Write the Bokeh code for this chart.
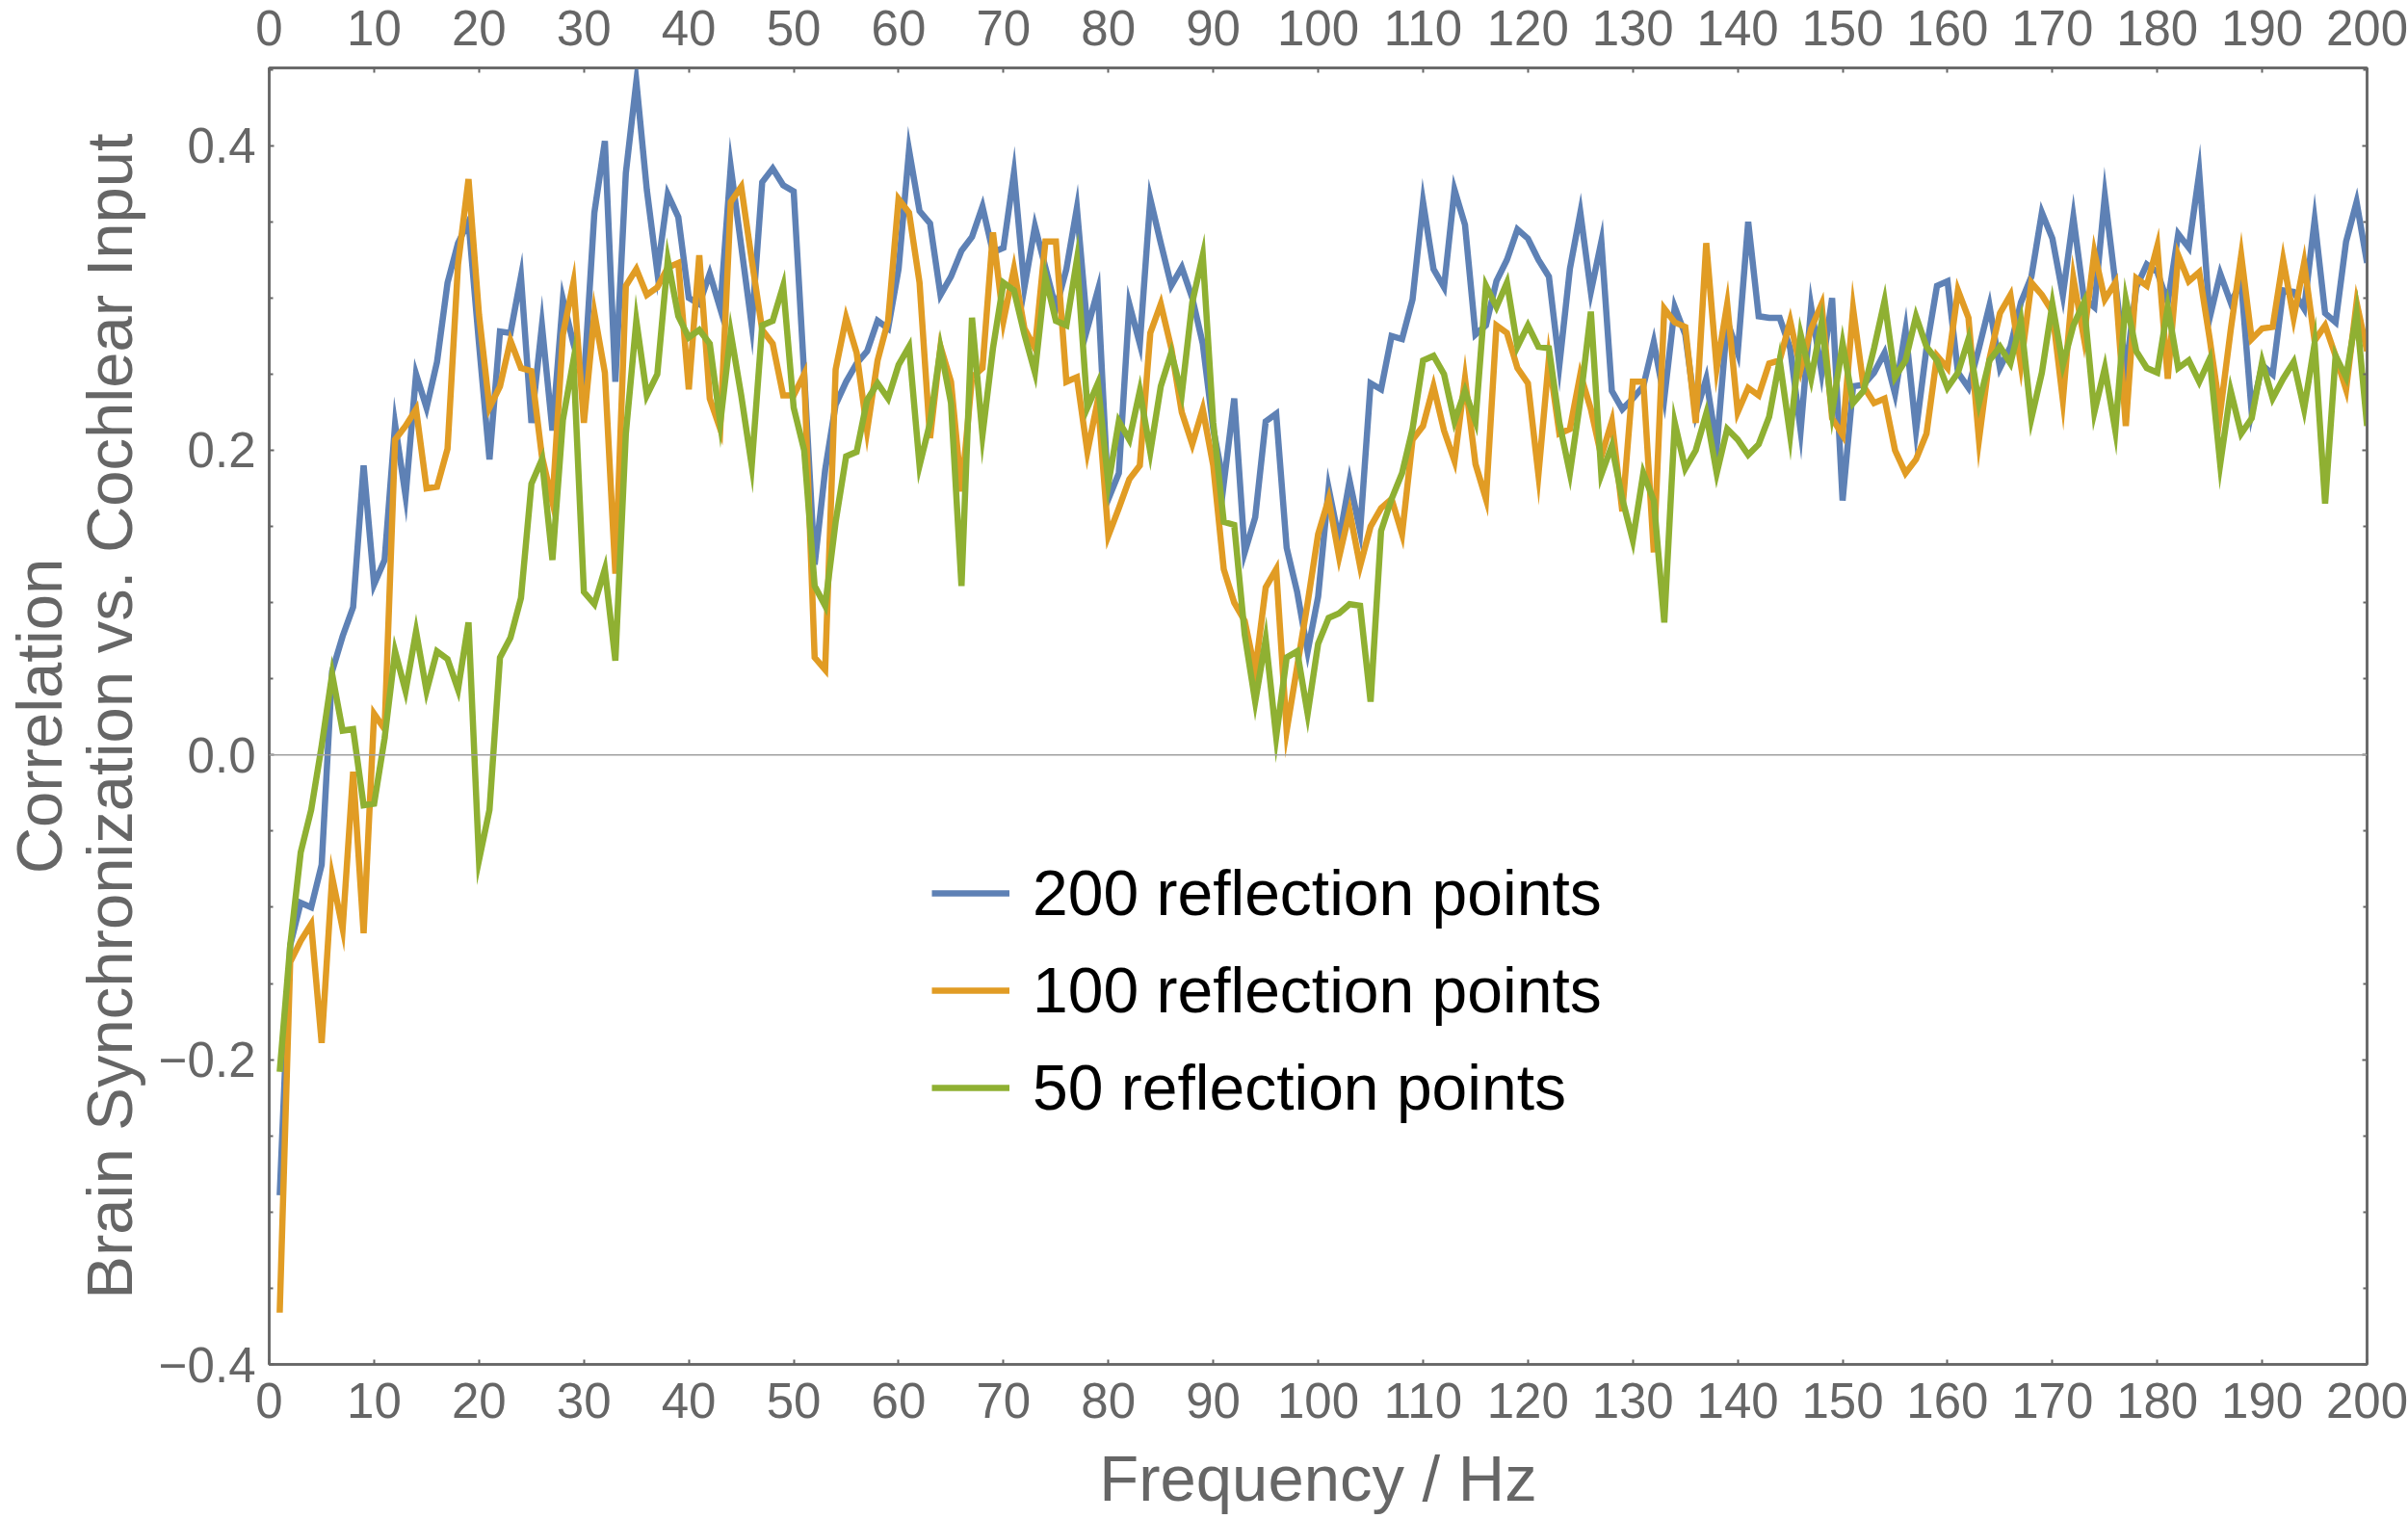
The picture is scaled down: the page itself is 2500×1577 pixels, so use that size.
from bokeh.plotting import figure
from bokeh.models import Range1d, LinearAxis, FixedTicker, Span, Legend, LegendItem, ColumnDataSource
from bokeh.embed import file_html
from bokeh.resources import INLINE

# ---------------- data ----------------
freq_hz = list(range(1, 201))

corr_200 = [
    -0.289, -0.125, -0.097, -0.100, -0.072, 0.055, 0.078, 0.097, 0.190, 0.112,
    0.128, 0.217, 0.170, 0.250, 0.228, 0.258, 0.310, 0.336, 0.350, 0.270,
    0.194, 0.278, 0.277, 0.314, 0.218, 0.282, 0.213, 0.299, 0.270, 0.245,
    0.356, 0.403, 0.245, 0.382, 0.442, 0.371, 0.317, 0.368, 0.353, 0.300,
    0.296, 0.316, 0.293, 0.386, 0.334, 0.282, 0.376, 0.385, 0.374, 0.370,
    0.250, 0.125, 0.187, 0.230, 0.245, 0.257, 0.265, 0.285, 0.280, 0.319,
    0.397, 0.357, 0.349, 0.302, 0.314, 0.331, 0.340, 0.360, 0.330, 0.333,
    0.382, 0.307, 0.347, 0.320, 0.293, 0.319, 0.359, 0.280, 0.305, 0.168,
    0.185, 0.296, 0.270, 0.365, 0.336, 0.308, 0.320, 0.300, 0.270, 0.214,
    0.178, 0.234, 0.133, 0.156, 0.219, 0.224, 0.136, 0.107, 0.068, 0.104,
    0.175, 0.141, 0.180, 0.147, 0.244, 0.240, 0.275, 0.273, 0.299, 0.363,
    0.319, 0.307, 0.371, 0.348, 0.276, 0.282, 0.311, 0.325, 0.345, 0.339,
    0.325, 0.314, 0.256, 0.319, 0.356, 0.304, 0.337, 0.239, 0.227, 0.234,
    0.242, 0.271, 0.234, 0.294, 0.276, 0.224, 0.247, 0.202, 0.285, 0.264,
    0.350, 0.288, 0.287, 0.287, 0.267, 0.213, 0.294, 0.251, 0.300, 0.167,
    0.242, 0.243, 0.251, 0.264, 0.237, 0.279, 0.213, 0.267, 0.308, 0.311,
    0.251, 0.241, 0.267, 0.295, 0.254, 0.268, 0.297, 0.314, 0.356, 0.339,
    0.302, 0.353, 0.300, 0.294, 0.367, 0.310, 0.252, 0.307, 0.322, 0.317,
    0.297, 0.342, 0.333, 0.382, 0.287, 0.316, 0.297, 0.310, 0.225, 0.256,
    0.250, 0.305, 0.304, 0.293, 0.351, 0.290, 0.284, 0.337, 0.363, 0.323,
]

corr_100 = [
    -0.366, -0.136, -0.122, -0.111, -0.189, -0.080, -0.114, -0.011, -0.117, 0.027,
    0.017, 0.207, 0.216, 0.227, 0.175, 0.176, 0.201, 0.322, 0.378, 0.289,
    0.228, 0.242, 0.272, 0.254, 0.252, 0.196, 0.166, 0.276, 0.310, 0.218,
    0.290, 0.251, 0.119, 0.308, 0.319, 0.302, 0.307, 0.320, 0.323, 0.240,
    0.328, 0.234, 0.214, 0.363, 0.373, 0.325, 0.279, 0.270, 0.236, 0.236,
    0.250, 0.064, 0.056, 0.253, 0.287, 0.264, 0.213, 0.259, 0.285, 0.365,
    0.356, 0.310, 0.208, 0.268, 0.245, 0.173, 0.248, 0.254, 0.343, 0.285,
    0.319, 0.280, 0.267, 0.337, 0.337, 0.245, 0.248, 0.199, 0.233, 0.144,
    0.162, 0.181, 0.190, 0.277, 0.296, 0.267, 0.225, 0.204, 0.227, 0.190,
    0.122, 0.100, 0.088, 0.055, 0.110, 0.122, 0.016, 0.058, 0.100, 0.145,
    0.168, 0.130, 0.160, 0.124, 0.150, 0.162, 0.168, 0.145, 0.207, 0.216,
    0.242, 0.213, 0.193, 0.247, 0.191, 0.168, 0.282, 0.277, 0.254, 0.244,
    0.184, 0.260, 0.211, 0.214, 0.250, 0.227, 0.196, 0.219, 0.160, 0.245,
    0.245, 0.133, 0.293, 0.284, 0.281, 0.218, 0.336, 0.254, 0.296, 0.225,
    0.241, 0.236, 0.257, 0.259, 0.285, 0.253, 0.280, 0.296, 0.221, 0.210,
    0.293, 0.242, 0.231, 0.234, 0.200, 0.185, 0.194, 0.211, 0.262, 0.254,
    0.305, 0.287, 0.207, 0.260, 0.290, 0.302, 0.256, 0.310, 0.302, 0.291,
    0.233, 0.313, 0.274, 0.330, 0.299, 0.310, 0.216, 0.313, 0.308, 0.334,
    0.247, 0.328, 0.311, 0.317, 0.273, 0.225, 0.279, 0.328, 0.273, 0.280,
    0.281, 0.325, 0.287, 0.323, 0.272, 0.282, 0.262, 0.240, 0.297, 0.265,
]

corr_50 = [
    -0.208, -0.125, -0.064, -0.036, 0.006, 0.053, 0.016, 0.017, -0.033, -0.032,
    0.011, 0.068, 0.042, 0.081, 0.042, 0.068, 0.063, 0.043, 0.087, -0.069,
    -0.036, 0.064, 0.077, 0.103, 0.178, 0.194, 0.128, 0.220, 0.259, 0.107,
    0.099, 0.122, 0.062, 0.211, 0.285, 0.236, 0.250, 0.325, 0.288, 0.274,
    0.279, 0.270, 0.218, 0.277, 0.236, 0.190, 0.282, 0.285, 0.308, 0.228,
    0.200, 0.111, 0.098, 0.153, 0.196, 0.199, 0.233, 0.244, 0.234, 0.256,
    0.268, 0.190, 0.218, 0.267, 0.231, 0.111, 0.287, 0.210, 0.267, 0.310,
    0.305, 0.276, 0.251, 0.314, 0.285, 0.282, 0.325, 0.228, 0.244, 0.178,
    0.219, 0.207, 0.239, 0.199, 0.242, 0.264, 0.237, 0.297, 0.328, 0.218,
    0.153, 0.151, 0.079, 0.035, 0.076, 0.012, 0.064, 0.068, 0.027, 0.073,
    0.090, 0.093, 0.099, 0.098, 0.035, 0.147, 0.168, 0.185, 0.214, 0.259,
    0.262, 0.250, 0.219, 0.239, 0.219, 0.308, 0.294, 0.310, 0.268, 0.282,
    0.268, 0.267, 0.218, 0.185, 0.233, 0.291, 0.184, 0.203, 0.168, 0.141,
    0.185, 0.167, 0.087, 0.218, 0.188, 0.200, 0.224, 0.185, 0.214, 0.207,
    0.197, 0.204, 0.222, 0.259, 0.210, 0.276, 0.247, 0.284, 0.225, 0.270,
    0.231, 0.239, 0.267, 0.298, 0.248, 0.259, 0.288, 0.268, 0.259, 0.241,
    0.251, 0.273, 0.231, 0.259, 0.268, 0.257, 0.285, 0.221, 0.251, 0.296,
    0.256, 0.282, 0.297, 0.225, 0.254, 0.213, 0.299, 0.265, 0.254, 0.251,
    0.294, 0.254, 0.259, 0.245, 0.260, 0.191, 0.239, 0.211, 0.221, 0.258,
    0.234, 0.247, 0.258, 0.227, 0.270, 0.165, 0.262, 0.248, 0.290, 0.216,
]

series_labels = ["200 reflection points", "100 reflection points", "50 reflection points"]
series_colors = ["#5E81B5", "#E19C24", "#8FB032"]

x_ticks = [0, 10, 20, 30, 40, 50, 60, 70, 80, 90, 100,
           110, 120, 130, 140, 150, 160, 170, 180, 190, 200]
y_ticks = [-0.4, -0.2, 0.0, 0.2, 0.4]
y_tick_labels = ["\u22120.4", "\u22120.2", "0.0", "0.2", "0.4"]
y_minor_ticks = [-0.35, -0.3, -0.25, -0.15, -0.1, -0.05, 0.05, 0.1, 0.15,
                 0.25, 0.3, 0.35, 0.45]

x_label = "Frequency / Hz"
y_label = "Correlation\nBrain Synchronization vs. Cochlear Input"

# ---------------- figure ----------------
FONT = "Liberation Sans"
GRAY = "#666666"

p = figure(width=2500, height=1577,
           x_range=Range1d(0, 200), y_range=Range1d(-0.4, 0.451),
           output_backend="svg", toolbar_location=None,
           min_border_left=279, min_border_right=43,
           min_border_top=70, min_border_bottom=161)
p.xgrid.visible = False
p.ygrid.visible = False
p.background_fill_color = "white"
p.border_fill_color = "white"
p.outline_line_color = GRAY
p.outline_line_width = 2.5

zero = Span(location=0, dimension="width", line_color="#a0a0a0", line_width=1.5)
p.add_layout(zero)

src = ColumnDataSource(dict(f=freq_hz, c200=corr_200, c100=corr_100, c50=corr_50))
renderers = []
for col, color in zip(["c200", "c100", "c50"], series_colors):
    r = p.line("f", col, source=src, line_color=color, line_width=6.5, line_join="miter")
    renderers.append(r)

def style_axis(ax):
    ax.axis_line_color = GRAY
    ax.axis_line_width = 2.5
    ax.major_tick_line_color = GRAY
    ax.major_tick_line_width = 2
    ax.minor_tick_line_color = GRAY
    ax.minor_tick_line_width = 2
    ax.major_tick_in = 5
    ax.major_tick_out = 0
    ax.minor_tick_in = 4
    ax.minor_tick_out = 0
    ax.major_label_text_font = FONT
    ax.major_label_text_font_size = "51px"
    ax.major_label_text_color = GRAY
    ax.axis_label_text_font = FONT
    ax.axis_label_text_font_size = "67px"
    ax.axis_label_text_font_style = "normal"
    ax.axis_label_text_color = GRAY

# bottom x axis
xb = p.xaxis[0]
style_axis(xb)
xb.ticker = FixedTicker(ticks=x_ticks, minor_ticks=[])
xb.major_label_standoff = 19
xb.axis_label = x_label
xb.axis_label_standoff = 22

# left y axis
yl = p.yaxis[0]
style_axis(yl)
yl.ticker = FixedTicker(ticks=y_ticks, minor_ticks=y_minor_ticks)
yl.major_label_overrides = {t: s for t, s in zip(y_ticks, y_tick_labels)}
yl.major_label_standoff = 14
yl.axis_label = y_label
yl.axis_label_standoff = 11
yl.axis_label_text_line_height = 0.965

# top x axis
xt = LinearAxis(ticker=FixedTicker(ticks=x_ticks, minor_ticks=[]))
style_axis(xt)
xt.major_label_standoff = 24
p.add_layout(xt, "above")

# right y axis (ticks only, no labels drawn)
yr = LinearAxis(ticker=FixedTicker(ticks=y_ticks, minor_ticks=y_minor_ticks))
style_axis(yr)
yr.major_label_text_font_size = "1px"
yr.major_label_text_color = None
yr.major_label_standoff = 0
p.add_layout(yr, "right")

legend = Legend(
    items=[LegendItem(label=lab, renderers=[r]) for lab, r in zip(series_labels, renderers)],
    location=(688, 249),
    orientation="vertical",
    label_text_font=FONT, label_text_font_size="66px", label_text_color="black",
    glyph_width=81, glyph_height=76, label_height=76, label_standoff=24,
    spacing=25, padding=0, margin=0,
    border_line_color=None, background_fill_alpha=0,
)
p.add_layout(legend)

open("out.html", "w").write(file_html(p, INLINE))
